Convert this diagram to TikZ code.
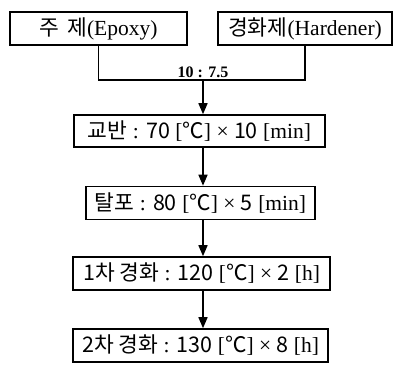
\documentclass[tikz,border=0pt]{standalone}
\usepackage{fontspec}
\setmainfont{Liberation Serif}
\newfontfamily\cjk{Noto Sans CJK KR}
\usetikzlibrary{arrows.meta}
\newcommand\kor[1]{{\cjk #1}}
\begin{document}
\begin{tikzpicture}[x=1pt,y=-1pt,
  box/.style={draw,line width=1.6pt,inner sep=0pt,font=\fontsize{21.5}{22}\selectfont},
  conn/.style={line width=1.6pt},
  arr/.style={conn,-{Triangle[length=11pt,width=9pt]}}]
\useasboundingbox (0,0) rectangle (393,367);
\node[box,minimum width=177pt,minimum height=33pt] (epoxy) at (98.5,28.5) {\kor{주\hspace{8pt}제}(Epoxy)};
\node[box,minimum width=174pt,minimum height=33pt] (hard) at (305,28.5) {\kor{경화제}(Hardener)};
\coordinate (merge) at (203,80);
\draw[conn] (epoxy.south) |- (merge) -| (hard.south);
\node[font=\bfseries\fontsize{16}{16}\selectfont,anchor=base] (ratio) at (203,77) {10 : 7.5};
\node[box,minimum width=251pt,minimum height=32pt] (mix) at (199.5,131) {\kor{교반} : \kor{70} [\kor{℃}] × \kor{10} [min]};
\node[box,minimum width=229pt,minimum height=33pt] (degas) at (200.5,203) {\kor{탈포} : \kor{80} [\kor{℃}] × \kor{5} [min]};
\node[box,minimum width=257pt,minimum height=33pt] (cure1) at (201.5,273.5) {\kor{1차 경화} : \kor{120} [\kor{℃}] × \kor{2} [h]};
\node[box,minimum width=255pt,minimum height=33pt] (cure2) at (200.5,345.5) {\kor{2차 경화} : \kor{130} [\kor{℃}] × \kor{8} [h]};
\draw[arr] (merge) -- (merge |- mix.north);
\draw[arr] (merge |- mix.south) -- (merge |- degas.north);
\draw[arr] (merge |- degas.south) -- (merge |- cure1.north);
\draw[arr] (merge |- cure1.south) -- (merge |- cure2.north);
\end{tikzpicture}
\end{document}
